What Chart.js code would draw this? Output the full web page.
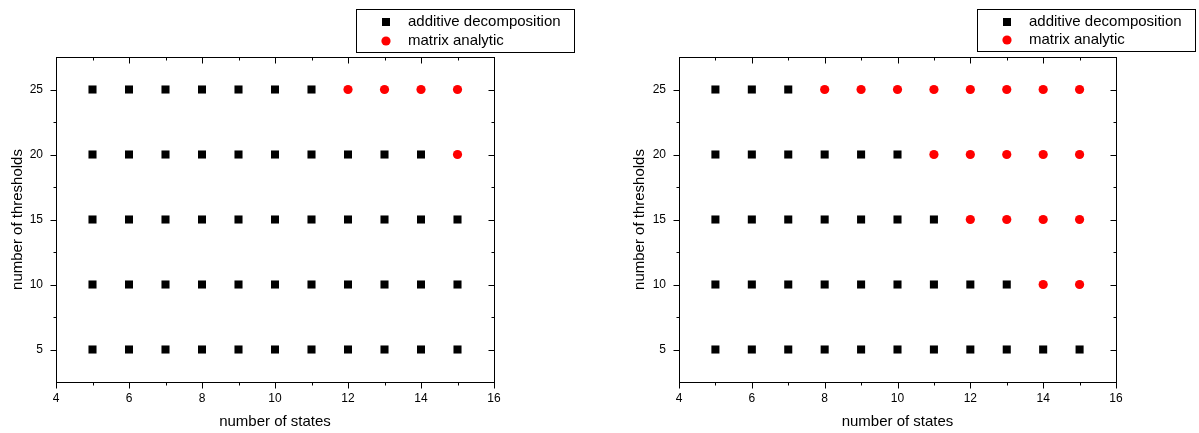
<!DOCTYPE html>
<html lang="en">
<head>
<meta charset="utf-8">
<title>additive decomposition / matrix analytic</title>
<script src="https://cdn.jsdelivr.net/npm/chart.js@4.4.1/dist/chart.umd.min.js"></script>
<style>
    body { margin: 0; background: #fff; }
    .khung { position: absolute; top: 0; }
    #khung-trai { left: 0; }
    #khung-phai { left: 600px; }
</style>
</head>
<body>
<div class="khung" id="khung-trai"><canvas id="bieuDoTrai" width="600" height="433"></canvas></div>
<div class="khung" id="khung-phai"><canvas id="bieuDoPhai" width="599" height="433"></canvas></div>
<script>
// Dữ liệu: số trạng thái (trục x) và số ngưỡng (trục y)
const trangThai = [5, 6, 7, 8, 9, 10, 11, 12, 13, 14, 15];
const nguong = [5, 10, 15, 20, 25];
// Trạng thái đầu tiên dùng "matrix analytic" ở mỗi ngưỡng (null = không có)
const traiMatranTu = [null, null, null, 15, 12];
const phaiMatranTu = [null, 14, 12, 11, 8];
// Nhãn trục và vạch phụ
const nhanX = [4, 6, 8, 10, 12, 14, 16];
const nhanY = [5, 10, 15, 20, 25];
const vachPhuX = [5, 7, 9, 11, 13, 15];
const vachPhuY = [7.5, 12.5, 17.5, 22.5];
const tenChuoi = ['additive decomposition', 'matrix analytic'];

Chart.defaults.font.family = '"Liberation Sans", Arial, sans-serif';
Chart.defaults.color = '#000';

// Tách các điểm thành hai nhóm theo trạng thái bắt đầu dùng matrix analytic
function tachDiem(matranTu) {
    const cong = [];
    const matran = [];
    nguong.forEach((y, i) => {
        trangThai.forEach(x => {
            if (matranTu[i] !== null && x >= matranTu[i]) matran.push({ x: x, y: y });
            else cong.push({ x: x, y: y });
        });
    });
    return { cong, matran };
}

// 1. VẼ KHUNG VÀ VẠCH CHIA BỐN CẠNH
const khungTruc = {
    id: 'khungTruc',
    beforeDatasetsDraw(chart) {
        const { ctx, chartArea: a, scales: { x, y } } = chart;
        const l = Math.round(a.left) + 0.5, r = Math.round(a.right) + 0.5;
        const t = Math.round(a.top) + 0.5, b = Math.round(a.bottom) + 0.5;
        ctx.save();
        ctx.strokeStyle = '#000';
        ctx.lineWidth = 1;
        ctx.strokeRect(l, t, r - l, b - t);
        ctx.beginPath();
        const vachX = (v, dai) => {
            const p = Math.round(x.getPixelForValue(v)) + 0.5;
            ctx.moveTo(p, b); ctx.lineTo(p, b + dai);   // dưới: hướng ra
            ctx.moveTo(p, t); ctx.lineTo(p, t + dai);   // trên: hướng vào
        };
        const vachY = (v, dai) => {
            const p = Math.round(y.getPixelForValue(v)) + 0.5;
            ctx.moveTo(l, p); ctx.lineTo(l - dai, p);   // trái: hướng ra
            ctx.moveTo(r, p); ctx.lineTo(r - dai, p);   // phải: hướng vào
        };
        nhanX.forEach(v => vachX(v, 6));
        vachPhuX.forEach(v => vachX(v, 3));
        nhanY.forEach(v => vachY(v, 6));
        vachPhuY.forEach(v => vachY(v, 3));
        ctx.stroke();
        ctx.restore();
    }
};

// 2. VẼ CHÚ GIẢI CÓ VIỀN
const chuGiai = {
    id: 'chuGiai',
    afterDraw(chart, args, o) {
        const ctx = chart.ctx;
        ctx.save();
        ctx.strokeStyle = '#000';
        ctx.lineWidth = 1;
        ctx.strokeRect(o.x + 0.5, o.y + 0.5, o.w, o.h);
        ctx.font = '15px "Liberation Sans", Arial, sans-serif';
        ctx.textBaseline = 'middle';
        chart.data.datasets.forEach((ds, i) => {
            ctx.fillStyle = ds.backgroundColor;
            Chart.helpers.drawPoint(ctx, { pointStyle: ds.pointStyle, radius: ds.pointRadius, borderWidth: 0, rotation: 0 }, o.diemX, o.dong[i]);
            ctx.fillStyle = '#000';
            ctx.fillText(ds.label, o.chuX, o.dong[i]);
        });
        ctx.restore();
    }
};

function veBieuDo(idCanvas, matranTu, boCuc) {
    const diem = tachDiem(matranTu);
    const ctx = document.getElementById(idCanvas).getContext('2d');
    return new Chart(ctx, {
        type: 'scatter',
        data: {
            datasets: [
                { label: tenChuoi[0], data: diem.cong, pointStyle: 'rect', pointRadius: 5.7, borderWidth: 0, backgroundColor: '#000000' },
                { label: tenChuoi[1], data: diem.matran, pointStyle: 'circle', pointRadius: 4.6, borderWidth: 0, backgroundColor: '#ff0000' }
            ]
        },
        options: {
            responsive: false,
            animation: false,
            events: [],
            layout: { padding: { top: 57, right: boCuc.phai, bottom: 0, left: 0 } },
            plugins: {
                legend: { display: false },
                tooltip: { enabled: false },
                chuGiai: boCuc.chuGiai
            },
            scales: {
                x: {
                    type: 'linear', min: 4, max: 16,
                    grid: { display: false, drawTicks: false },
                    border: { display: false },
                    afterBuildTicks: s => { s.ticks = nhanX.map(v => ({ value: v })); },
                    afterFit: s => { s.height = 51; },
                    ticks: { font: { size: 12 }, padding: 9, maxRotation: 0 },
                    title: { display: true, text: 'number of states', font: { size: 15 }, padding: { top: 0, bottom: 2 } }
                },
                y: {
                    type: 'linear', min: 2.5, max: 27.5,
                    grid: { display: false, drawTicks: false },
                    border: { display: false },
                    afterBuildTicks: s => { s.ticks = nhanY.map(v => ({ value: v })); },
                    afterFit: s => { s.width = boCuc.trai; },
                    ticks: { font: { size: 12 }, padding: 13 },
                    title: { display: true, text: 'number of thresholds', font: { size: 15 }, padding: { top: boCuc.tieuDeY, bottom: 0 } }
                }
            }
        },
        plugins: [khungTruc, chuGiai]
    });
}

document.addEventListener('DOMContentLoaded', function() {
    veBieuDo('bieuDoTrai', traiMatranTu, {
        trai: 56, phai: 106, tieuDeY: 9,
        chuGiai: { x: 356, y: 9, w: 218, h: 43, diemX: 386, chuX: 408, dong: [22, 41] }
    });
    veBieuDo('bieuDoPhai', phaiMatranTu, {
        trai: 79, phai: 83, tieuDeY: 31,
        chuGiai: { x: 377, y: 9, w: 218, h: 42, diemX: 407, chuX: 429, dong: [22, 40] }
    });
});
</script>
</body>
</html>
